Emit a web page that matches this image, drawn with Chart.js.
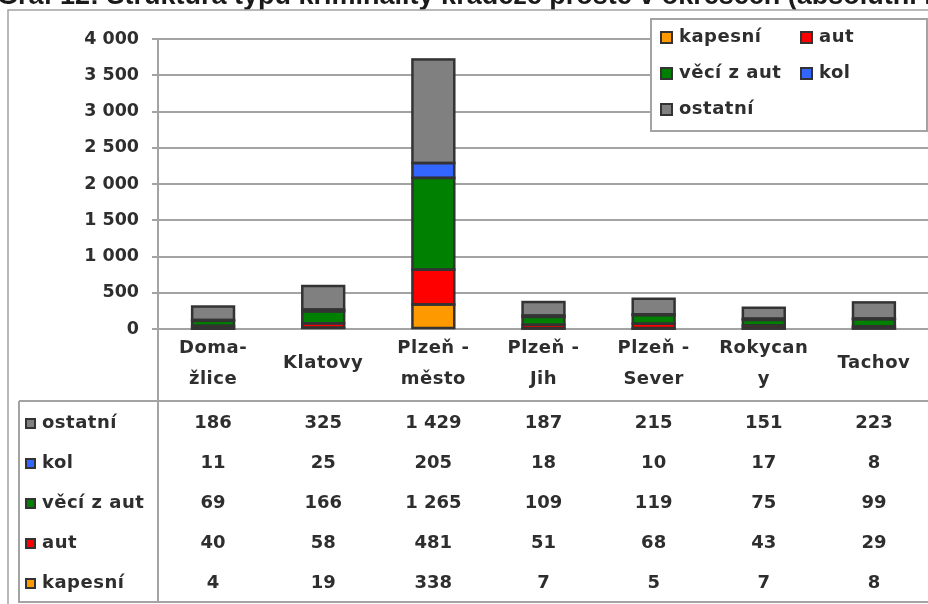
<!DOCTYPE html>
<html>
<head>
<meta charset="utf-8">
<script src="https://cdn.jsdelivr.net/npm/chart.js@4/dist/chart.umd.min.js"></script>
<style>
  html, body { margin: 0; padding: 0; background: #fff; overflow: hidden; }
  #wrap { width: 928px; height: 604px; overflow: hidden; position: relative; }
  canvas { display: block; }
</style>
</head>
<body>
<div id="wrap"><canvas id="chart" width="960" height="604"></canvas></div>
<script>
// categories (okresy), each entry = label lines
const categories = [
  ['Doma-', 'žlice'],
  ['Klatovy'],
  ['Plzeň -', 'město'],
  ['Plzeň -', 'Jih'],
  ['Plzeň -', 'Sever'],
  ['Rokycan', 'y'],
  ['Tachov']
];

// series values (stack order bottom -> top)
const kapesni = [4, 19, 338, 7, 5, 7, 8];
const aut = [40, 58, 481, 51, 68, 43, 29];
const veciZAut = [69, 166, 1265, 109, 119, 75, 99];
const kol = [11, 25, 205, 18, 10, 17, 8];
const ostatni = [186, 325, 1429, 187, 215, 151, 223];

const seriesNames = ['kapesní', 'aut', 'věcí z aut', 'kol', 'ostatní'];
const seriesColors = ['#FF9900', '#FF0000', '#008000', '#3366FF', '#808080'];
const seriesData = [kapesni, aut, veciZAut, kol, ostatni];

const titleText = 'Graf 12: Struktura typů kriminality krádeže prostě v okresech (absolutní hodnoty)';

const FONT = 'bold 18px "DejaVu Sans"';
const TEXT = '#2e2e2e';
const LINE = '#a3a3a3';
const EDGE = '#333333';

// thousands separator with a space, like the source
const fmt = v => String(v).replace(/\B(?=(\d{3})+(?!\d))/g, ' ');

const swatch = (ctx, x, y, size, color) => {
  ctx.fillStyle = EDGE;
  ctx.fillRect(x, y, size, size);
  ctx.fillStyle = color;
  ctx.fillRect(x + 2, y + 2, size - 4, size - 4);
};

// outline every stacked segment the way the spreadsheet does (no clamping)
const outlines = {
  id: 'outlines',
  afterDatasetsDraw(chart) {
    const { ctx } = chart;
    ctx.save();
    ctx.strokeStyle = EDGE;
    ctx.lineWidth = 2.5;
    chart.data.datasets.forEach((ds, k) => {
      chart.getDatasetMeta(k).data.forEach(bar => {
        const { x, y, base, width } = bar.getProps(['x', 'y', 'base', 'width'], true);
        ctx.strokeRect(x - width / 2, Math.min(y, base), width, Math.abs(base - y));
      });
    });
    ctx.restore();
  }
};

// draws title, frame, legend, category labels and data table
const extras = {
  id: 'extras',
  afterDraw(chart) {
    const { ctx, chartArea, scales } = chart;
    const xs = scales.x;
    ctx.save();

    // title (cut off at the top)
    ctx.font = 'bold 27px "Liberation Sans"';
    ctx.fillStyle = '#1a1a1a';
    ctx.textAlign = 'left';
    ctx.textBaseline = 'alphabetic';
    ctx.fillText(titleText, -3, 4);

    // outer frame
    ctx.strokeStyle = LINE;
    ctx.lineWidth = 1.5;
    ctx.beginPath();
    ctx.moveTo(8, 610);
    ctx.lineTo(8, 10);
    ctx.lineTo(960, 10);
    ctx.stroke();

    // axis line + table borders
    ctx.lineWidth = 2;
    ctx.beginPath();
    ctx.moveTo(chartArea.left, chartArea.top);
    ctx.lineTo(chartArea.left, 602);
    ctx.moveTo(19, 401);
    ctx.lineTo(960, 401);
    ctx.moveTo(19, 401);
    ctx.lineTo(19, 602);
    ctx.lineTo(960, 602);
    ctx.stroke();

    // category labels
    ctx.font = FONT;
    ctx.fillStyle = TEXT;
    ctx.textAlign = 'center';
    ctx.textBaseline = 'middle';
    ctx.letterSpacing = '0.5px';
    categories.forEach((lines, i) => {
      const x = xs.getPixelForValue(i);
      if (lines.length === 1) {
        ctx.fillText(lines[0], x, 363);
      } else {
        ctx.fillText(lines[0], x, 348);
        ctx.fillText(lines[1], x, 379);
      }
    });

    // data table rows (top row = last series)
    const rows = seriesNames.map((n, k) => k).reverse();
    rows.forEach((k, r) => {
      const y = 423 + r * 40;
      swatch(ctx, 25, y - 5, 11, seriesColors[k]);
      ctx.fillStyle = TEXT;
      ctx.textAlign = 'left';
      ctx.letterSpacing = '0.5px';
      ctx.fillText(seriesNames[k], 42, y);
      ctx.textAlign = 'center';
      ctx.letterSpacing = '0px';
      seriesData[k].forEach((v, i) => {
        ctx.fillText(fmt(v), xs.getPixelForValue(i), y);
      });
    });

    // legend box
    ctx.fillStyle = '#fff';
    ctx.fillRect(651, 19, 276, 112);
    ctx.strokeStyle = LINE;
    ctx.lineWidth = 2;
    ctx.strokeRect(651, 19, 276, 112);
    const legendPos = [
      [660, 37], [800, 37],
      [660, 73], [800, 73],
      [660, 109]
    ];
    ctx.textAlign = 'left';
    ctx.letterSpacing = '0.5px';
    seriesNames.forEach((n, k) => {
      const [lx, ly] = legendPos[k];
      swatch(ctx, lx, ly - 6, 13, seriesColors[k]);
      ctx.fillStyle = TEXT;
      ctx.fillText(n, lx + 19, ly);
    });

    ctx.restore();
  }
};

new Chart(document.getElementById('chart'), {
  type: 'bar',
  data: {
    labels: categories,
    datasets: seriesNames.map((name, k) => ({
      label: name,
      data: seriesData[k],
      backgroundColor: seriesColors[k],
      borderWidth: 0,
      barPercentage: 0.38,
      categoryPercentage: 1.0
    }))
  },
  options: {
    responsive: false,
    animation: false,
    layout: {
      padding: { left: 0, top: 39, right: 31, bottom: 275 }
    },
    plugins: {
      legend: { display: false },
      title: { display: false },
      tooltip: { enabled: false }
    },
    scales: {
      x: {
        stacked: true,
        ticks: { display: false },
        grid: { display: false },
        border: { display: false },
        afterFit: s => { s.height = 0; }
      },
      y: {
        stacked: true,
        min: 0,
        max: 4000,
        ticks: {
          stepSize: 500,
          padding: 13,
          color: TEXT,
          font: { family: 'DejaVu Sans', size: 17.5, weight: 'bold' },
          callback: v => fmt(v)
        },
        grid: {
          color: LINE,
          lineWidth: 2,
          tickLength: 6,
          tickColor: LINE
        },
        border: { display: false },
        afterFit: s => { s.width = 158; }
      }
    }
  },
  plugins: [outlines, extras]
});
</script>
</body>
</html>
